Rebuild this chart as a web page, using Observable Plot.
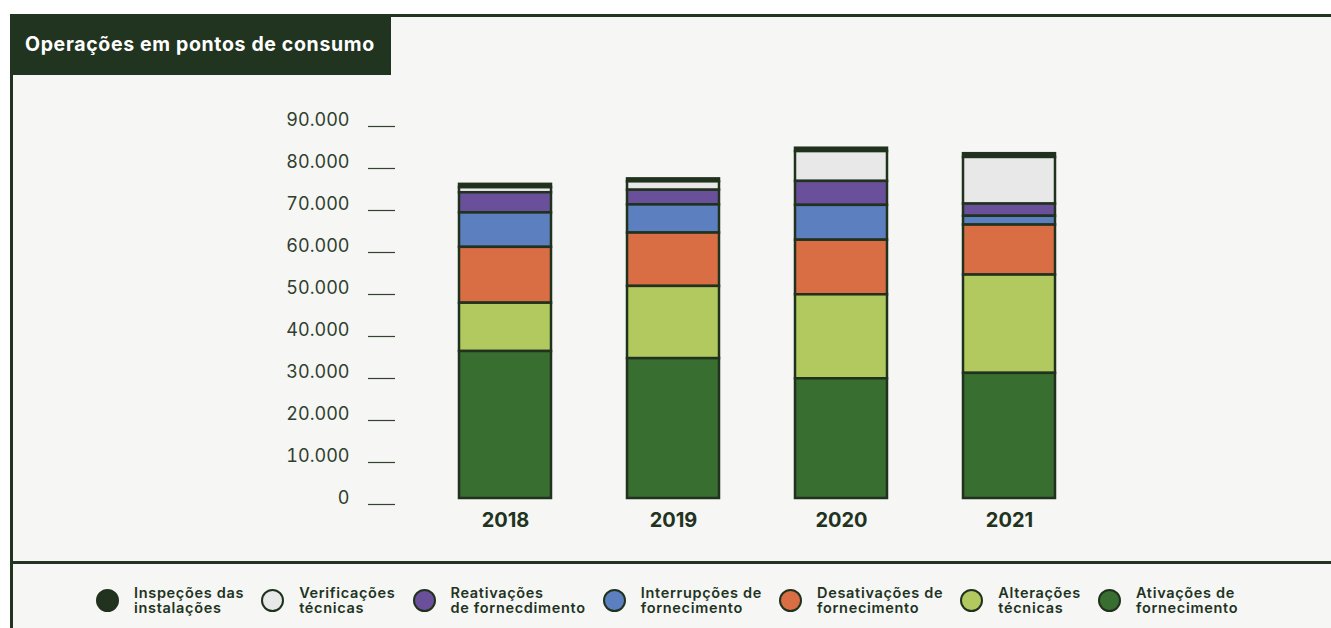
<!DOCTYPE html>
<html>
<head>
<meta charset="utf-8">
<script src="https://cdn.jsdelivr.net/npm/d3@7"></script>
<script src="https://cdn.jsdelivr.net/npm/@observablehq/plot@0.6"></script>
<style>
  html, body { margin: 0; padding: 0; background: #ffffff; }
  #page { position: relative; width: 1331px; height: 628px; overflow: hidden; background: #ffffff; font-family: Inter, "Open Sans", sans-serif; }
  #panel { position: absolute; left: 10px; top: 14px; right: 0; bottom: 0; background: #f6f6f4; border-left: 3px solid #21341f; border-top: 3px solid #21341f; }
  #title { position: absolute; left: 10px; top: 14px; width: 381px; height: 61px; background: #21341f; color: #ffffff; font-weight: 700; font-size: 19.5px; letter-spacing: 0.65px; line-height: 61px; box-sizing: border-box; padding-left: 15px; white-space: nowrap; }
  #chart { position: absolute; left: 0; top: 0; }
  #sep { position: absolute; left: 13px; right: 0; top: 561px; height: 3px; background: #21341f; }
  #legend { position: absolute; left: 96px; top: 585px; display: flex; align-items: center; gap: 17px; }
  .item { display: flex; align-items: center; }
  .dot { width: 23px; height: 23px; box-sizing: border-box; border-radius: 50%; border: 2.5px solid #20321d; margin-right: 15px; flex: none; }
  .lab { font-size: 14.5px; line-height: 15px; letter-spacing: 0.68px; font-weight: 600; color: #21331e; white-space: nowrap; }
</style>
</head>
<body>
<div id="page">
  <div id="panel"></div>
  <div id="title">Operações em pontos de consumo</div>
  <div id="chart"></div>
  <div id="sep"></div>
  <div id="legend"></div>
</div>
<script>
// ---- data ----
const years = ["2018", "2019", "2020", "2021"];
const seriesNames = [
  "Inspeções das instalações",
  "Verificações técnicas",
  "Reativações de fornecdimento",
  "Interrupções de fornecimento",
  "Desativações de fornecimento",
  "Alterações técnicas",
  "Ativações de fornecimento"
];
const legendLines = [
  ["Inspeções das", "instalações"],
  ["Verificações", "técnicas"],
  ["Reativações", "de fornecdimento"],
  ["Interrupções de", "fornecimento"],
  ["Desativações de", "fornecimento"],
  ["Alterações", "técnicas"],
  ["Ativações de", "fornecimento"]
];
const seriesColors = ["#21331e", "#e8e8e8", "#6a509b", "#5b7fbf", "#d96d44", "#b2c95f", "#386e30"];

const inspecoes    = [800, 700, 800, 900];
const verificacoes = [1200, 2000, 7100, 11100];
const reativacoes  = [4800, 3500, 5700, 2900];
const interrupcoes = [8200, 6700, 8300, 2100];
const desativacoes = [13300, 12700, 13000, 11900];
const alteracoes   = [11500, 17200, 20000, 23400];
const ativacoes    = [35000, 33300, 28500, 29800];

const yTicks = [0, 10000, 20000, 30000, 40000, 50000, 60000, 70000, 80000, 90000];

// ---- table ----
const valuesBySeries = [inspecoes, verificacoes, reativacoes, interrupcoes, desativacoes, alteracoes, ativacoes];
const rows = [];
years.forEach((yr, i) => {
  seriesNames.forEach((s, j) => rows.push({ year: yr, series: s, value: valuesBySeries[j][i] }));
});
const stackOrder = seriesNames.slice().reverse(); // bottom first

const fmt = d => d3.format(",")(d).replace(/,/g, ".");
const dark = "#20321d";

const chart = Plot.plot({
  width: 1331,
  height: 560,
  marginLeft: 395,
  marginRight: 212,
  marginTop: 120,
  marginBottom: 62,
  style: { fontFamily: "Inter, 'Open Sans', sans-serif", background: "transparent", overflow: "visible" },
  x: { domain: years, paddingInner: 0.455, paddingOuter: 0.373, label: null },
  y: { domain: [0, 90000], label: null },
  color: { domain: seriesNames, range: seriesColors },
  marks: [
    Plot.axisY(yTicks, { tickSize: 27, fill: "none", stroke: "#33432f", strokeWidth: 1.2, dy: 6, label: null }),
    Plot.axisY(yTicks, { tickSize: 0, tickPadding: 46, tickFormat: fmt, fontSize: 18, fill: "#2f3f2d", label: null }),
    Plot.axisX({ tickSize: 0, tickPadding: 14, fontSize: 20, fontWeight: 700, fill: "#21331e", label: null }),
    Plot.barY(rows, Plot.stackY({
      x: "year", y: "value", fill: "series", order: stackOrder,
      stroke: dark, strokeWidth: 2.5, inset: 0
    }))
  ]
});
document.getElementById("chart").appendChild(chart);

// ---- legend ----
const legend = document.getElementById("legend");
seriesNames.forEach((s, i) => {
  const item = document.createElement("div");
  item.className = "item";
  const dot = document.createElement("div");
  dot.className = "dot";
  dot.style.background = seriesColors[i];
  const lab = document.createElement("div");
  lab.className = "lab";
  lab.innerHTML = legendLines[i].join("<br>");
  item.appendChild(dot);
  item.appendChild(lab);
  legend.appendChild(item);
});
</script>
</body>
</html>
